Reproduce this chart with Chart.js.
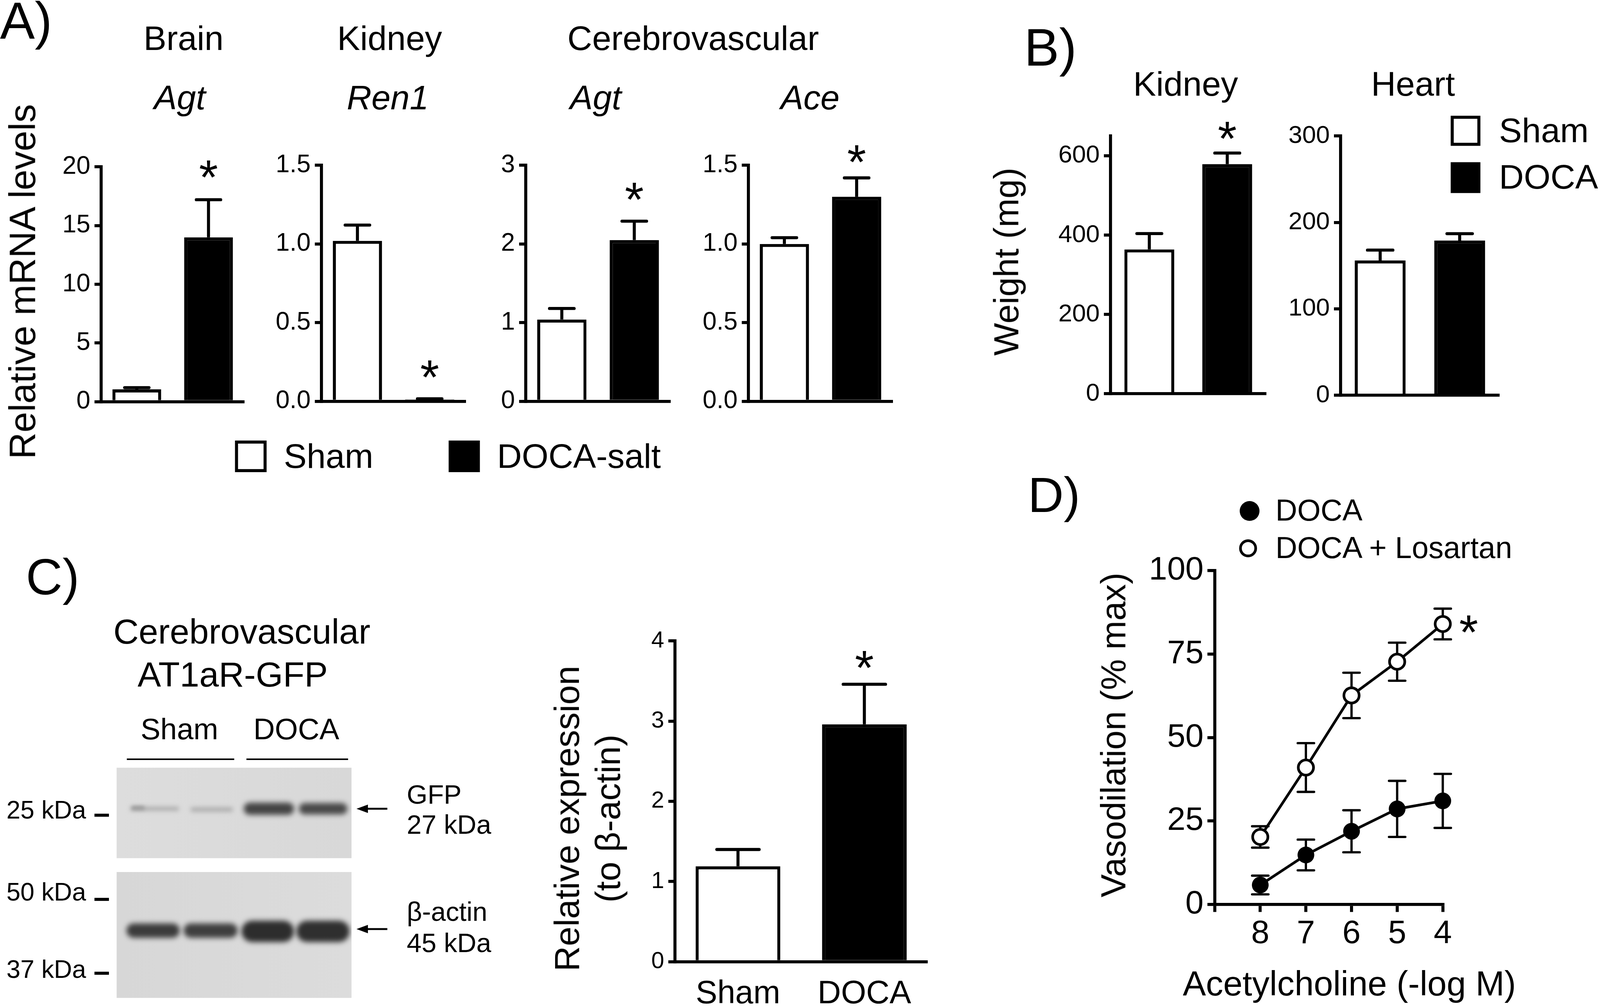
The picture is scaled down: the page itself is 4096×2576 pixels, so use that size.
<!DOCTYPE html>
<html>
<head>
<meta charset="utf-8">
<script src="https://cdn.jsdelivr.net/npm/chart.js@4.4.1/dist/chart.umd.min.js"></script>
<style>
  html, body { margin: 0; padding: 0; background: #fff; }
  #fig { position: relative; width: 4096px; height: 2576px; overflow: hidden;
         font-family: 'Liberation Sans', Arial, Helvetica, sans-serif; color: #000; }
  #fig canvas { position: absolute; }
  .t { position: absolute; line-height: 1; white-space: nowrap; }
</style>
</head>
<body>
<div id="fig"></div>
<script>
// A) relative mRNA levels
const mrnaGroups = ['Sham', 'DOCA-salt'];
const brainAgtMean = [1.05, 14.0];
const brainAgtSem = [0.15, 3.2];
const brainAgtStar = [false, true];
const kidneyRen1Mean = [1.02, 0.012];
const kidneyRen1Sem = [0.10, 0.004];
const kidneyRen1Star = [false, true];
const cvAgtMean = [1.04, 2.05];
const cvAgtSem = [0.14, 0.24];
const cvAgtStar = [false, true];
const cvAceMean = [1.00, 1.30];
const cvAceSem = [0.04, 0.12];
const cvAceStar = [false, true];

// B) organ weights (mg)
const weightGroups = ['Sham', 'DOCA'];
const kidneyWeightMean = [364, 579];
const kidneyWeightSem = [40, 28];
const kidneyWeightStar = [false, true];
const heartWeightMean = [156, 179];
const heartWeightSem = [12, 8];
const heartWeightStar = [false, false];

// C) AT1aR-GFP relative to beta-actin
const blotGroups = ['Sham', 'DOCA'];
const gfpRatioMean = [1.19, 2.96];
const gfpRatioSem = [0.21, 0.50];
const gfpRatioStar = [false, true];

// D) vasodilation to acetylcholine
const vasoSeries = ['DOCA', 'DOCA + Losartan'];
const achLogM = [8, 7, 6, 5, 4];
const docaVaso = [5.8, 14.8, 21.9, 28.6, 31.0];
const docaVasoSem = [2.8, 4.6, 6.3, 8.4, 8.1];
const losartanVaso = [20.2, 41.0, 62.6, 72.7, 84.0];
const losartanVasoSem = [3.2, 7.3, 6.8, 5.7, 4.6];
const losartanStar = [false, false, false, false, true];

// tick labels
const brainTicks = [0, 5, 10, 15, 20];
const ren1Ticks = [0, 0.5, 1.0, 1.5];
const cvAgtTicks = [0, 1, 2, 3];
const aceTicks = [0, 0.5, 1.0, 1.5];
const kidneyWTicks = [0, 200, 400, 600];
const heartWTicks = [0, 100, 200, 300];
const ratioTicks = [0, 1, 2, 3, 4];
const vasoTicks = [0, 25, 50, 75, 100];
const achTicks = [8, 7, 6, 5, 4];

const S = 0.975;   // reference px -> page px
const LW = 8;      // line width in reference px
const FONT = "'Liberation Sans', Arial, Helvetica, sans-serif";
Chart.defaults.font.family = FONT;
Chart.defaults.color = '#000';

const fig = document.getElementById('fig');

function addCanvas(x, y, w, h) {
    const c = document.createElement('canvas');
    c.width = Math.round(w * S);
    c.height = Math.round(h * S);
    c.style.left = Math.round(x * S) + 'px';
    c.style.top = Math.round(y * S) + 'px';
    fig.appendChild(c);
    return c;
}

// text placed by its baseline, in reference px
function text(str, x, y, size, o = {}) {
    const el = document.createElement('div');
    el.className = 't';
    el.textContent = str;
    el.style.fontSize = (size * S) + 'px';
    if (o.italic) el.style.fontStyle = 'italic';
    el.style.left = (x * S) + 'px';
    if (o.rotate) {
        el.style.top = (y * S) + 'px';
        el.style.transformOrigin = '0 0';
        el.style.transform = 'rotate(-90deg) translate(-50%, -84.65%)';
    } else {
        el.style.top = ((y - 0.8465 * size) * S) + 'px';
        if (o.align === 'center') el.style.transform = 'translateX(-50%)';
        if (o.align === 'right') el.style.transform = 'translateX(-100%)';
    }
    fig.appendChild(el);
}

// error bars drawn through the y scale
const errorBars = {
    id: 'errorBars',
    beforeDatasetsDraw(chart, args, opts) {
        const ctx = chart.ctx, yScale = chart.scales.y;
        ctx.save();
        ctx.strokeStyle = '#000';
        ctx.lineWidth = opts.width * S;
        chart.data.datasets.forEach((ds, di) => {
            if (!ds.err) return;
            chart.getDatasetMeta(di).data.forEach((el, i) => {
                const v = typeof ds.data[i] === 'object' ? ds.data[i].y : ds.data[i];
                const hi = yScale.getPixelForValue(v + ds.err[i]);
                const lo = yScale.getPixelForValue(opts.both ? v - ds.err[i] : v);
                const half = (opts.cap ? opts.cap * S : el.width / 2) / 2;
                ctx.lineCap = 'butt';
                ctx.beginPath();
                ctx.moveTo(el.x, lo);
                ctx.lineTo(el.x, hi);
                ctx.stroke();
                ctx.lineCap = 'round';
                ctx.beginPath();
                ctx.moveTo(el.x - half, hi);
                ctx.lineTo(el.x + half, hi);
                if (opts.both) {
                    ctx.moveTo(el.x - half, lo);
                    ctx.lineTo(el.x + half, lo);
                }
                ctx.stroke();
            });
        });
        ctx.restore();
    }
};

// significance asterisks
const starMarks = {
    id: 'starMarks',
    afterDatasetsDraw(chart, args, opts) {
        const ctx = chart.ctx, yScale = chart.scales.y;
        chart.data.datasets.forEach((ds, di) => {
            if (!ds.star) return;
            ctx.save();
            ctx.font = (opts.size * S) + 'px ' + FONT;
            ctx.fillStyle = '#000';
            ctx.textAlign = 'center';
            ctx.textBaseline = 'alphabetic';
            const m = ctx.measureText('*');
            const mid = (m.actualBoundingBoxDescent - m.actualBoundingBoxAscent) / 2;
            chart.getDatasetMeta(di).data.forEach((el, i) => {
                if (!ds.star[i]) return;
                const v = typeof ds.data[i] === 'object' ? ds.data[i].y : ds.data[i];
                let x = el.x, y;
                if (opts.dx) { x += opts.dx * S; y = el.y; }
                else y = yScale.getPixelForValue(v + ds.err[i]) - opts.gap * S;
                ctx.fillText('*', x, y - mid);
            });
            ctx.restore();
        });
    }
};

function yAxis(max, ticks, dec, size, yW, tl, pad) {
    return {
        min: 0, max: max, z: 1,
        afterFit: s => { s.width = yW * S; },
        afterBuildTicks: s => { s.ticks = ticks.map(v => ({ value: v })); },
        border: { display: true, color: '#000', width: LW * S },
        grid: { display: true, drawOnChartArea: false, drawTicks: true, tickLength: tl * S,
                tickWidth: LW * S, tickColor: '#000', color: '#000', lineWidth: LW * S },
        ticks: { color: '#000', padding: pad * S, autoSkip: false, font: { size: size * S },
                 callback: v => Number(v).toFixed(dec) }
    };
}

function barChart(o) {
    const yW = 220, padTop = 110, padR = 20, xH = o.xFont ? 150 : 20;
    const cv = addCanvas(o.l - yW, o.t - padTop, o.r - o.l + yW + padR, o.b - o.t + padTop + xH);
    new Chart(cv, {
        type: 'bar',
        data: {
            labels: o.labels,
            datasets: [{
                data: o.mean,
                err: o.sem,
                star: o.star,
                backgroundColor: ['#fff', '#000'],
                borderColor: '#000',
                borderWidth: LW * S,
                barPercentage: o.barPct,
                categoryPercentage: 1
            }]
        },
        options: {
            responsive: false,
            animation: false,
            devicePixelRatio: 1,
            layout: { padding: { top: padTop * S, right: padR * S, left: 0, bottom: 0 } },
            plugins: {
                legend: { display: false },
                tooltip: { enabled: false },
                errorBars: { width: LW },
                starMarks: { gap: o.gap, size: 128 }
            },
            scales: {
                x: {
                    z: 1,
                    afterFit: s => { s.height = xH * S; },
                    border: { display: true, color: '#000', width: LW * S },
                    grid: { display: false, drawTicks: false },
                    ticks: { display: !!o.xFont, color: '#000', padding: 35 * S, maxRotation: 0,
                             font: { size: (o.xFont || 10) * S } }
                },
                y: yAxis(o.max, o.ticks, o.dec, o.tickFont, yW, 17, 11)
            }
        },
        plugins: [errorBars, starMarks]
    });
}

// ---------- static graphics (legends, blot, arrows) ----------
const bg = addCanvas(0, 0, 4096 / S, 2576 / S);
const g = bg.getContext('2d');
g.scale(S, S);

function square(x1, y1, x2, y2, filled) {
    g.fillStyle = '#000';
    g.fillRect(x1, y1, x2 - x1, y2 - y1);
    if (!filled) {
        g.fillStyle = '#fff';
        g.fillRect(x1 + LW, y1 + LW, x2 - x1 - 2 * LW, y2 - y1 - 2 * LW);
    }
}
function hline(x1, x2, y, w) {
    g.fillStyle = '#000';
    g.fillRect(x1, y - w / 2, x2 - x1, w);
}
function arrow(xTip, xEnd, y) {
    g.fillStyle = '#000';
    g.fillRect(xTip + 20, y - 2.5, xEnd - xTip - 20, 5);
    g.beginPath();
    g.moveTo(xTip, y);
    g.lineTo(xTip + 30, y - 11);
    g.lineTo(xTip + 30, y + 11);
    g.closePath();
    g.fill();
}
function membrane(x1, y1, x2, y2, c1, c2, bands) {
    g.save();
    g.beginPath();
    g.rect(x1, y1, x2 - x1, y2 - y1);
    g.clip();
    const grd = g.createLinearGradient(x1, 0, x2, 0);
    grd.addColorStop(0, c1);
    grd.addColorStop(1, c2);
    g.fillStyle = grd;
    g.fillRect(x1, y1, x2 - x1, y2 - y1);
    bands.forEach(b => {
        g.save();
        g.filter = 'blur(' + b[5] + 'px)';
        g.fillStyle = b[4];
        g.beginPath();
        if (g.roundRect) g.roundRect(b[0], b[2] - b[3] / 2, b[1] - b[0], b[3], b[3] / 2);
        else g.rect(b[0], b[2] - b[3] / 2, b[1] - b[0], b[3]);
        g.fill();
        g.restore();
    });
    g.restore();
}

// A legend
square(617, 1157, 700, 1240, false);
square(1178, 1157, 1260, 1240, true);
// B legend
square(3809, 304, 3887, 383, false);
square(3809, 426, 3887, 507, true);

// C blot
hline(333, 615, 1994, 4);
hline(647, 914, 1994, 4);
membrane(306, 2016, 923, 2254, '#dddddd', '#d8d8d8', [
    [342, 470, 2124, 10, '#aaaaaa', 6],
    [345, 380, 2122, 10, '#999999', 5],
    [500, 612, 2126, 12, '#aeaeae', 6],
    [640, 772, 2124, 32, '#434343', 7],
    [785, 912, 2124, 30, '#484848', 7]
]);
membrane(306, 2290, 923, 2621, '#d7d7d7', '#dcdcdc', [
    [332, 472, 2444, 38, '#3b3b3b', 7],
    [482, 624, 2444, 38, '#3e3e3e', 7],
    [634, 772, 2446, 56, '#2d2d2d', 7],
    [778, 918, 2446, 56, '#2f2f2f', 7]
]);
hline(248, 286, 2141, 8);
hline(248, 286, 2362, 8);
hline(248, 286, 2556, 8);
arrow(936, 1017, 2124);
arrow(936, 1017, 2440);

// D legend markers
g.fillStyle = '#000';
g.beginPath(); g.arc(3281, 1342, 26, 0, Math.PI * 2); g.fill();
g.beginPath(); g.arc(3277, 1440, 20, 0, Math.PI * 2);
g.fillStyle = '#fff'; g.fill();
g.lineWidth = 7; g.strokeStyle = '#000'; g.stroke();

// ---------- charts ----------
barChart({ l: 265, r: 641, t: 438, b: 1085, labels: mrnaGroups, mean: brainAgtMean, sem: brainAgtSem,
           star: brainAgtStar, max: 20, ticks: brainTicks, dec: 0, tickFont: 66, gap: 80, barPct: 0.68 });
barChart({ l: 844, r: 1223, t: 434, b: 1085, labels: mrnaGroups, mean: kidneyRen1Mean, sem: kidneyRen1Sem,
           star: kidneyRen1Star, max: 1.5, ticks: ren1Ticks, dec: 1, tickFont: 66, gap: 78, barPct: 0.68 });
barChart({ l: 1380, r: 1760, t: 434, b: 1085, labels: mrnaGroups, mean: cvAgtMean, sem: cvAgtSem,
           star: cvAgtStar, max: 3, ticks: cvAgtTicks, dec: 0, tickFont: 66, gap: 78, barPct: 0.68 });
barChart({ l: 1965, r: 2344, t: 434, b: 1085, labels: mrnaGroups, mean: cvAceMean, sem: cvAceSem,
           star: cvAceStar, max: 1.5, ticks: aceTicks, dec: 1, tickFont: 66, gap: 63, barPct: 0.68 });
barChart({ l: 2915, r: 3324, t: 357, b: 1064, labels: weightGroups, mean: kidneyWeightMean, sem: kidneyWeightSem,
           star: kidneyWeightStar, max: 650, ticks: kidneyWTicks, dec: 0, tickFont: 65, gap: 59, barPct: 0.64 });
barChart({ l: 3519, r: 3936, t: 357, b: 1068, labels: weightGroups, mean: heartWeightMean, sem: heartWeightSem,
           star: heartWeightStar, max: 300, ticks: heartWTicks, dec: 0, tickFont: 65, gap: 59, barPct: 0.64 });
barChart({ l: 1772, r: 2436, t: 1683, b: 2526, labels: blotGroups, mean: gfpRatioMean, sem: gfpRatioSem,
           star: gfpRatioStar, max: 4, ticks: ratioTicks, dec: 0, tickFont: 61, gap: 65, barPct: 0.67, xFont: 85 });

// D) line chart
(function () {
    const l = 3189, r = 3788, t = 1497, b = 2375;
    const yW = 260, padTop = 60, padR = 140, xH = 150;
    const cv = addCanvas(l - yW, t - padTop, r - l + yW + padR, b - t + padTop + xH);
    new Chart(cv, {
        type: 'line',
        data: {
            datasets: [{
                label: vasoSeries[0],
                data: achLogM.map((c, i) => ({ x: c, y: docaVaso[i] })),
                err: docaVasoSem,
                borderColor: '#000', borderWidth: 7 * S,
                pointRadius: 22 * S, pointBackgroundColor: '#000', pointBorderColor: '#000', pointBorderWidth: 0,
                tension: 0, clip: false
            }, {
                label: vasoSeries[1],
                data: achLogM.map((c, i) => ({ x: c, y: losartanVaso[i] })),
                err: losartanVasoSem,
                star: losartanStar,
                borderColor: '#000', borderWidth: 7 * S,
                pointRadius: 20 * S, pointBackgroundColor: '#fff', pointBorderColor: '#000', pointBorderWidth: 7 * S,
                tension: 0, clip: false
            }]
        },
        options: {
            responsive: false,
            animation: false,
            devicePixelRatio: 1,
            layout: { padding: { top: padTop * S, right: padR * S, left: 0, bottom: 0 } },
            plugins: {
                legend: { display: false },
                tooltip: { enabled: false },
                errorBars: { width: 6, both: true, cap: 43 },
                starMarks: { dx: 68, size: 128 }
            },
            scales: {
                x: {
                    type: 'linear', reverse: true, min: 4, max: 9, z: 1,
                    afterFit: s => { s.height = xH * S; },
                    afterBuildTicks: s => { s.ticks = [9].concat(achTicks).map(v => ({ value: v })); },
                    border: { display: true, color: '#000', width: LW * S },
                    grid: { display: true, drawOnChartArea: false, drawTicks: true, tickLength: 20 * S,
                            tickWidth: LW * S, tickColor: '#000', color: '#000', lineWidth: LW * S },
                    ticks: { color: '#000', padding: 6 * S, autoSkip: false, maxRotation: 0,
                             font: { size: 86 * S }, callback: v => (v === 9 ? '' : String(v)) }
                },
                y: yAxis(100, vasoTicks, 0, 86, yW, 19, 10)
            }
        },
        plugins: [errorBars, starMarks]
    });
})();

// ---------- text ----------
text('A)', 0, 102, 137);
text('Brain', 482, 133, 90, { align: 'center' });
text('Kidney', 1023, 133, 90, { align: 'center' });
text('Cerebrovascular', 1820, 133, 90, { align: 'center' });
text('Agt', 472, 288, 90, { align: 'center', italic: true });
text('Ren1', 1018, 288, 90, { align: 'center', italic: true });
text('Agt', 1564, 288, 90, { align: 'center', italic: true });
text('Ace', 2127, 288, 90, { align: 'center', italic: true });
text('Relative mRNA levels', 92, 739, 97, { rotate: true });
text(mrnaGroups[0], 745, 1230, 90);
text(mrnaGroups[1], 1305, 1230, 90);

text('B)', 2689, 173, 138);
text('Kidney', 3113, 253, 90, { align: 'center' });
text('Heart', 3710, 253, 90, { align: 'center' });
text('Weight (mg)', 2675, 687, 91, { rotate: true });
text(weightGroups[0], 3936, 375, 90);
text(weightGroups[1], 3936, 497, 90);

text('C)', 68, 1562, 133);
text('Cerebrovascular', 635, 1691, 92, { align: 'center' });
text('AT1aR-GFP', 611, 1804, 92, { align: 'center' });
text('Sham', 471, 1942, 78, { align: 'center' });
text('DOCA', 778, 1942, 78, { align: 'center' });
text('25 kDa', 226, 2150, 66, { align: 'right' });
text('50 kDa', 226, 2366, 66, { align: 'right' });
text('37 kDa', 226, 2569, 66, { align: 'right' });
text('GFP', 1068, 2111, 70);
text('27 kDa', 1068, 2189, 70);
text('β-actin', 1068, 2418, 70);
text('45 kDa', 1068, 2500, 70);
text('Relative expression', 1521, 2150, 92, { rotate: true });
text('(to β-actin)', 1629, 2150, 92, { rotate: true });

text('D)', 2699, 1345, 130);
text(vasoSeries[0], 3349, 1367, 79);
text(vasoSeries[1], 3349, 1466, 79);
text('Vasodilation (% max)', 2956, 1930, 91, { rotate: true });
text('Acetylcholine (-log M)', 3543, 2616, 91, { align: 'center' });
</script>
</body>
</html>
